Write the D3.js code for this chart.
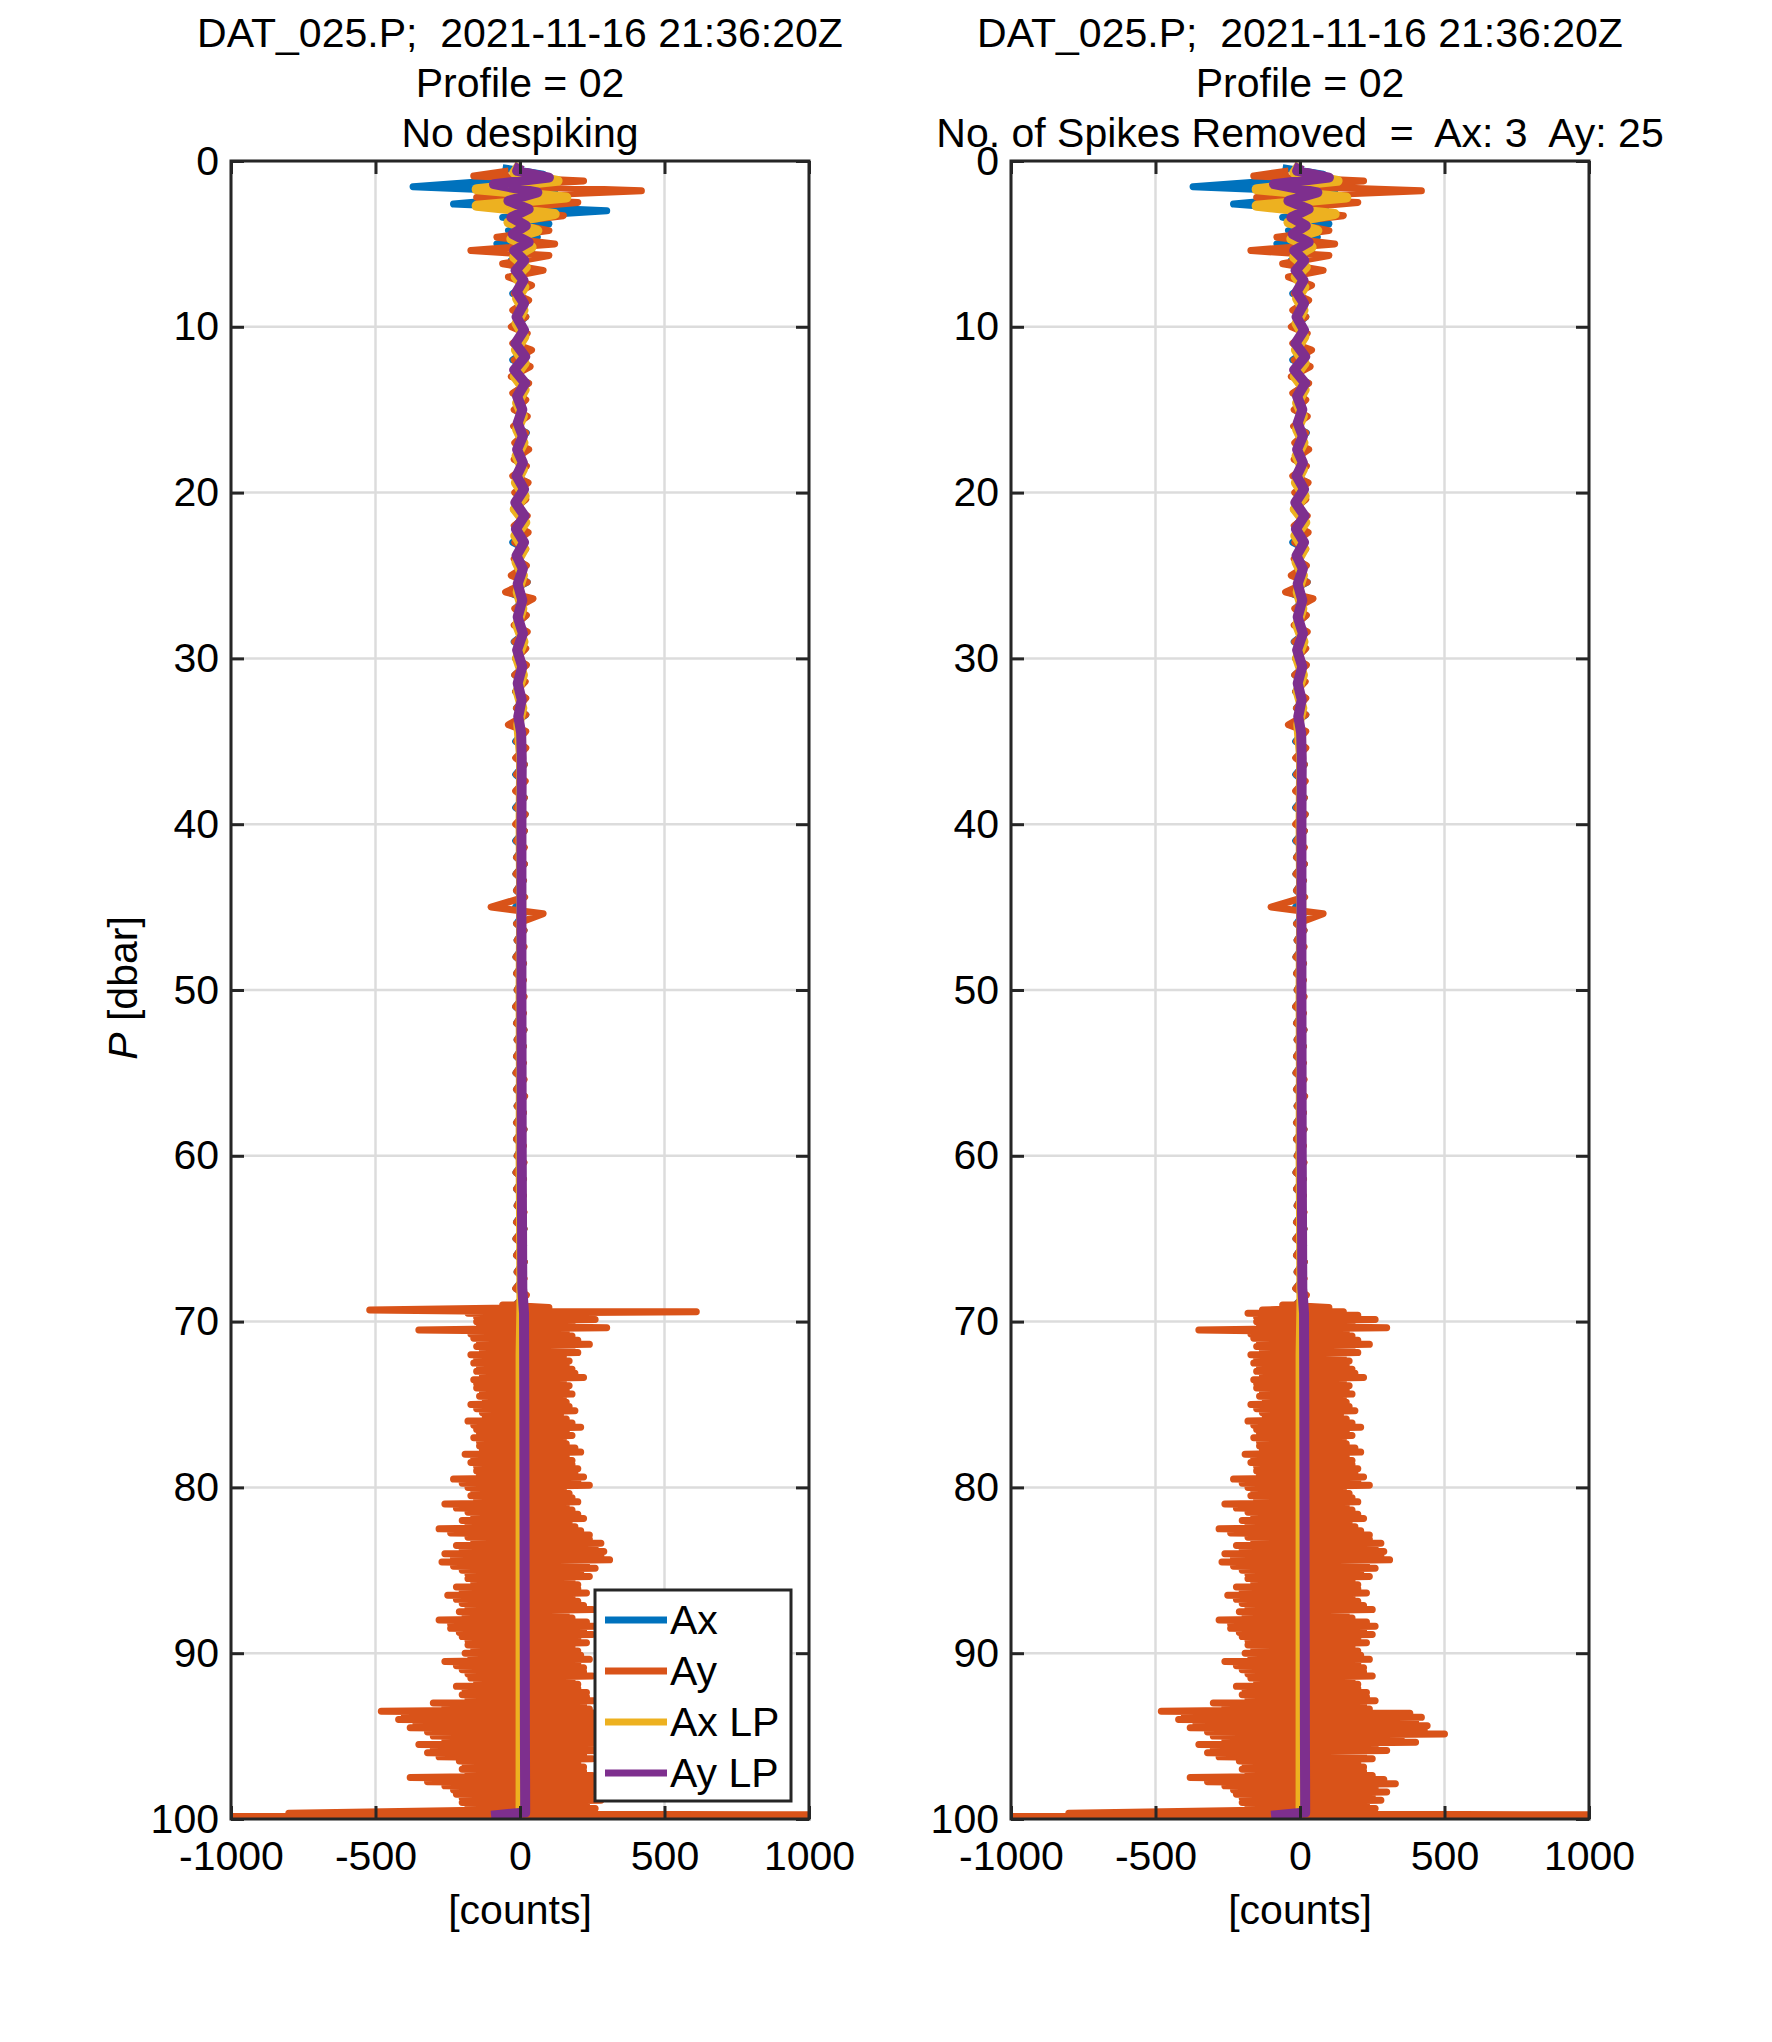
<!DOCTYPE html>
<html><head><meta charset="utf-8">
<script src="https://cdn.jsdelivr.net/npm/d3@7"></script>
<style>
body{margin:0;background:#fff;font-family:"Liberation Sans",Arial,sans-serif;}
text{fill:#000;}
</style></head><body>
<div id="chart"></div>
<script>
var W = 1772, H = 2042,
	panels = [{ x0: 231, title3: "No despiking", legend: true, despiked: false },
	          { x0: 1011, title3: "No. of Spikes Removed  =  Ax: 3  Ay: 25", legend: false, despiked: true }],
	pw = 578, plotTop = 161, ph = 1658,
	colors = { ax: "#0072BD", ay: "#D95319", axlp: "#EDB120", aylp: "#7E2F8E" };

// Ay envelope below 69 dbar, [neg, pos] every 0.5 dbar from 69.5
var ayDeep = [[-180,260],[-150,300],[-350,180],[-160,240],[-150,200],[-170,170],[-160,180],[-150,220],[-160,170],[-150,180],
	[-140,160],[-170,190],[-130,160],[-180,210],[-150,180],[-160,160],[-140,210],[-190,180],[-170,200],[-150,220],
	[-230,240],[-180,170],[-170,200],[-260,180],[-180,220],[-200,190],[-280,240],[-180,280],[-220,290],[-260,310],
	[-270,260],[-200,240],[-180,200],[-220,230],[-250,200],[-200,250],[-210,180],[-280,260],[-240,250],[-200,230],
	[-180,200],[-190,240],[-260,220],[-200,250],[-170,200],[-220,230],[-200,260],[-300,240],[-480,420],[-420,440],
	[-380,500],[-300,400],[-350,300],[-320,250],[-210,220],[-200,250],[-380,330],[-260,300],[-220,280],[-200,260]];
// second pass inside each 0.5 dbar step (smaller swings)
var ayDeep2 = [[-150,200],[-140,180],[-170,160],[-140,200],[-130,180],[-150,150],[-140,160],[-130,190],[-150,150],[-130,160],
	[-120,150],[-150,170],[-120,140],[-160,180],[-140,160],[-140,150],[-130,190],[-160,160],[-150,180],[-140,190],
	[-200,200],[-160,150],[-150,180],[-220,160],[-160,200],[-180,170],[-240,210],[-160,240],[-200,260],[-230,280],
	[-230,230],[-180,210],[-160,180],[-200,200],[-220,180],[-180,220],[-190,160],[-240,230],[-210,220],[-180,200],
	[-160,180],[-170,210],[-220,200],[-180,220],[-150,180],[-190,200],[-180,230],[-260,220],[-400,380],[-360,400],
	[-320,430],[-260,350],[-300,260],[-280,220],[-190,200],[-180,220],[-320,290],[-230,260],[-200,250],[-180,230]];

// near-surface raw records [p, value]
var axTop = [[0.4,-60],[0.8,80],[1.2,-100],[1.55,-370],[1.9,120],[2.3,-40],[2.6,-230],[3.0,300],[3.4,-60],[3.8,100],
	[4.2,-40],[4.6,60],[5.0,-80],[5.4,40],[6.0,-30],[6.5,30],[7.0,-25],[7.5,25]];
var ayTop = [[0.6,-40],[0.9,-160],[1.2,220],[1.5,-80],[1.8,420],[2.2,-150],[2.5,200],[2.9,-60],[3.3,150],[3.7,-40],
	[4.2,100],[4.6,-80],[5.0,120],[5.4,-170],[5.7,100],[6.2,-60],[6.6,80],[7.0,-40],[7.5,40]];
// 8..69 dbar, [neg,pos] every 1 dbar
var axMid = [[-25,25],[-22,20],[-20,22],[-18,25],[-25,20],[-20,28],[-22,18],[-18,20],[-20,22],[-15,18],[-18,20],[-20,25],
	[-15,18],[-22,20],[-18,22],[-25,18],[-15,20],[-18,25],[-40,15],[-15,20],[-18,22],[-20,18],[-15,20],[-18,15],[-15,18],
	[-12,20],[-30,15],[-15,18],[-12,15],[-15,12],[-12,15],[-15,18],[-12,15],[-15,12],[-12,15],[-14,12],[-12,14],[-15,12],
	[-12,14],[-10,12],[-14,12],[-12,10],[-10,12],[-15,10],[-12,14],[-10,12],[-12,10],[-14,12],[-12,15],[-10,12],[-12,14],
	[-12,10],[-10,12],[-14,12],[-12,10],[-10,12],[-12,14],[-14,12],[-12,15],[-10,12],[-14,18],[-15,12]];
var ayMid = [[-20,30],[-25,20],[-30,25],[-25,40],[-20,35],[-30,30],[-25,20],[-20,25],[-22,20],[-18,30],[-20,22],[-25,28],
	[-18,20],[-22,25],[-20,28],[-18,20],[-20,22],[-30,25],[-50,45],[-18,22],[-20,25],[-18,20],[-15,22],[-18,18],[-15,20],
	[-12,20],[-40,20],[-12,20],[-15,15],[-12,18],[-15,15],[-12,18],[-15,15],[-12,15],[-12,15],[-14,12],[-12,16],[-100,80],
	[-12,14],[-10,14],[-14,12],[-12,12],[-10,14],[-15,12],[-12,14],[-10,12],[-12,12],[-14,14],[-12,16],[-10,12],[-12,14],
	[-12,12],[-10,14],[-14,12],[-12,12],[-10,14],[-12,14],[-14,12],[-12,15],[-10,14],[-15,22],[-15,15]];
// low-pass records [p, value]
var axLP = [[0.2,0],[0.7,-20],[1.2,130],[1.7,-150],[2.2,160],[2.7,-150],[3.2,120],[3.7,-40],[4.2,60],[4.7,-30],[5.2,40],
	[5.8,-20],[6.4,20],[7.0,-15],[7.6,15],[8.3,-10],[9.0,12],[9.8,-12],[10.6,15],[11.4,-14],[12.2,16],[13.0,-18],[13.8,16],
	[14.6,-10],[15.4,10],[16.2,-10],[17.0,12],[17.8,-12],[18.6,10],[19.4,-14],[20.2,16],[21.0,-18],[21.8,18],[22.6,-16],
	[23.4,14],[24.2,-12],[25.0,10],[26.0,-8],[27.0,8],[28.0,-10],[29.0,12],[30.0,-10],[31.0,10],[32.0,-8],[33.0,8],
	[34.0,-6],[36,4],[40,2],[45,4],[50,2],[55,3],[60,2],[65,4],[69,5],[72,2],[80,2],[90,2],[99.6,2],[99.8,-10]];
var ayLP = [[0.2,0],[0.6,-10],[1.0,100],[1.4,-90],[1.9,60],[2.4,-40],[2.9,30],[3.4,-30],[3.9,20],[4.4,-25],[4.9,30],
	[5.4,-20],[6.0,15],[6.6,-15],[7.2,12],[7.9,-12],[8.6,14],[9.4,-12],[10.2,14],[11.0,-16],[11.8,18],[12.6,-20],[13.4,18],
	[14.2,-10],[15.0,8],[15.8,-8],[16.6,10],[17.4,-10],[18.2,10],[19.0,-12],[19.8,14],[20.6,-16],[21.4,16],[22.2,-14],
	[23.0,14],[23.8,-12],[24.6,10],[25.5,-8],[26.5,8],[27.5,-8],[28.5,10],[29.5,-10],[30.5,8],[31.5,-8],[32.5,6],[33.5,-6],
	[34.5,4],[36,6],[40,5],[50,5],[60,6],[68,8],[69.5,14],[75,15],[85,16],[95,17],[99.6,18],[99.8,-100]];

function buildRaw(top0, mid, despiked, which) {
	var pts = top0.slice();
	mid.forEach(function (d, i) {
		var p = 8 + i;
		pts.push([p, d[0]], [p + 0.4, d[1]]);
	});
	if (which === "ay") {
		pts.push([69.0, -60], [69.15, 100]);
		if (despiked) pts.push([69.3, -130], [69.4, 150]);
		else pts.push([69.3, -520], [69.4, 610]);
		ayDeep.forEach(function (d, i) {
			var p = 69.5 + i * 0.5, e = ayDeep2[i];
			pts.push([p, d[0]], [p + 0.12, e[1]], [p + 0.25, e[0]], [p + 0.37, d[1]]);
		});
		pts.push([99.65, -800], [99.75, 1000], [99.85, -1000]);
	} else {
		for (var p = 69.5; p < 99.6; p += 3) pts.push([p, -15], [p + 1.5, 15]);
	}
	pts.sort(function (a, b) { return a[0] - b[0]; });
	return pts;
}

var svg = d3.select("#chart").append("svg").attr("width", W).attr("height", H);

panels.forEach(function (pn, k) {
	var x = d3.scaleLinear().domain([-1000, 1000]).range([pn.x0, pn.x0 + pw]),
		y = d3.scaleLinear().domain([0, 100]).range([plotTop, plotTop + ph]);
	var g = svg.append("g");
	var clipId = "clip" + k;
	g.append("clipPath").attr("id", clipId).append("rect")
		.attr("x", pn.x0).attr("y", plotTop).attr("width", pw).attr("height", ph);

	// grid
	g.selectAll(".gx").data(x.ticks(4)).enter().append("line")
		.attr("x1", x).attr("x2", x).attr("y1", plotTop).attr("y2", plotTop + ph)
		.attr("stroke", "#dcdcdc").attr("stroke-width", 2.5);
	g.selectAll(".gy").data(d3.range(0, 101, 10)).enter().append("line")
		.attr("y1", y).attr("y2", y).attr("x1", pn.x0).attr("x2", pn.x0 + pw)
		.attr("stroke", "#dcdcdc").attr("stroke-width", 2.5);

	var line = d3.line().x(function (d) { return x(d[1]); }).y(function (d) { return y(d[0]); });
	var axTopUse = pn.despiked ? axTop.map(function (d) { return d[0] === 3.0 ? [3.0, 90] : d; }) : axTop;
	var series = [
		{ data: buildRaw(axTopUse, axMid, pn.despiked, "ax"), c: colors.ax, w: 7 },
		{ data: buildRaw(ayTop, ayMid, pn.despiked, "ay"), c: colors.ay, w: 7 },
		{ data: axLP, c: colors.axlp, w: 10 },
		{ data: ayLP, c: colors.aylp, w: 10 }
	];
	var plot = g.append("g").attr("clip-path", "url(#" + clipId + ")");
	series.forEach(function (s) {
		plot.append("path").datum(s.data).attr("d", line)
			.attr("fill", "none").attr("stroke", s.c).attr("stroke-width", s.w)
			.attr("stroke-linejoin", "round");
	});

	// axes with inward ticks on all sides
	var fs = "41px";
	var ax = g.append("g").attr("transform", "translate(0," + (plotTop + ph) + ")")
		.call(d3.axisBottom(x).tickValues([-1000, -500, 0, 500, 1000]).tickSize(-13).tickPadding(22));
	var axT = g.append("g").attr("transform", "translate(0," + plotTop + ")")
		.call(d3.axisTop(x).tickValues([-1000, -500, 0, 500, 1000]).tickSize(-13).tickFormat(""));
	var ay = g.append("g").attr("transform", "translate(" + pn.x0 + ",0)")
		.call(d3.axisLeft(y).tickValues(d3.range(0, 101, 10)).tickSize(-13).tickPadding(12));
	var ayR = g.append("g").attr("transform", "translate(" + (pn.x0 + pw) + ",0)")
		.call(d3.axisRight(y).tickValues(d3.range(0, 101, 10)).tickSize(-13).tickFormat(""));
	[ax, axT, ay, ayR].forEach(function (a) {
		a.select(".domain").remove();
		a.selectAll("line").attr("stroke", "#262626").attr("stroke-width", 3);
		a.selectAll("text").style("font-size", fs).style("font-family", "Liberation Sans, Arial, sans-serif").attr("fill", "#000");
	});
	ax.selectAll("text").text(function (d) { return d < 0 ? "-" + (-d) : d; });
	g.append("rect").attr("x", pn.x0).attr("y", plotTop).attr("width", pw).attr("height", ph)
		.attr("fill", "none").attr("stroke", "#262626").attr("stroke-width", 3);

	// titles
	var cx = pn.x0 + pw / 2;
	["DAT_025.P;  2021-11-16 21:36:20Z", "Profile = 02", pn.title3].forEach(function (t, i) {
		g.append("text").attr("x", cx).attr("y", 47 + i * 50).attr("text-anchor", "middle")
			.style("font-size", "41px").style("white-space", "pre").text(t);
	});
	g.append("text").attr("x", cx).attr("y", 1924).attr("text-anchor", "middle")
		.style("font-size", "41px").text("[counts]");

	if (k === 0) {
		var yl = g.append("text").attr("transform", "translate(137,988) rotate(-90)")
			.attr("text-anchor", "middle").style("font-size", "41px");
		yl.append("tspan").style("font-style", "italic").text("P");
		yl.append("tspan").text(" [dbar]");
	}

	if (pn.legend) {
		var lg = g.append("g").attr("transform", "translate(595,1590)");
		lg.append("rect").attr("width", 196).attr("height", 211).attr("fill", "#fff")
			.attr("stroke", "#262626").attr("stroke-width", 3);
		[["Ax", colors.ax], ["Ay", colors.ay], ["Ax LP", colors.axlp], ["Ay LP", colors.aylp]].forEach(function (d, i) {
			var yy = 30 + i * 51;
			lg.append("line").attr("x1", 10).attr("x2", 72).attr("y1", yy).attr("y2", yy)
				.attr("stroke", d[1]).attr("stroke-width", 7);
			lg.append("text").attr("x", 75).attr("y", yy + 14).style("font-size", "41px").text(d[0]);
		});
	}
});
</script>
</body></html>
